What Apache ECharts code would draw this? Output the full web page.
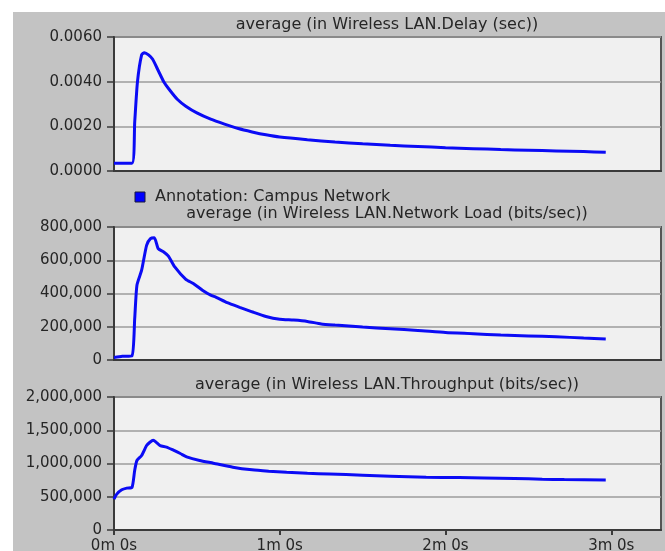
<!DOCTYPE html>
<html>
<head>
<meta charset="utf-8">
<script src="https://cdn.jsdelivr.net/npm/echarts@6/dist/echarts.min.js"></script>
<style>
  html, body { margin: 0; padding: 0; background: #ffffff; }
  #chart { width: 665px; height: 551px; }
</style>
</head>
<body>
<div id="chart"></div>
<script>
// Simulation time (seconds) and averaged statistics for the campus WLAN run
const delayTimes  = [0, 6.5, 7.5, 8.5, 10, 11, 12.5, 14, 16, 18, 20, 23, 26, 30, 35, 40, 45, 50, 55, 60, 70, 80, 90, 100, 110, 120, 130, 140, 150, 160, 170, 178];
const delayValues = [0.00035, 0.00035, 0.0022, 0.0040, 0.0052, 0.0053, 0.0052, 0.0050, 0.0045, 0.0040, 0.00365, 0.0032, 0.0029, 0.0026, 0.00232, 0.0021, 0.0019, 0.00175, 0.00162, 0.00152, 0.0014, 0.0013, 0.00122, 0.00115, 0.0011, 0.00104, 0.0010, 0.00096, 0.00093, 0.0009, 0.00087, 0.00084];

const loadTimes  = [0, 3, 6.5, 7.5, 8.3, 10, 11.8, 13.2, 14.6, 16, 18, 19.7, 22, 26, 28.7, 32, 35, 37, 41, 45.5, 50, 55, 60, 65, 70, 75, 80, 90, 100, 110, 120, 130, 140, 150, 160, 170, 178];
const loadValues = [15000, 22000, 25000, 250000, 450000, 540000, 690000, 730000, 735000, 670000, 650000, 625000, 560000, 485000, 460000, 420000, 390000, 377000, 345000, 317000, 290000, 262000, 245000, 240000, 232000, 217000, 210000, 198000, 188000, 178000, 165000, 158000, 150000, 145000, 140000, 132000, 126000];

const thruTimes  = [0, 1, 2.8, 4.6, 6.5, 7.5, 8.3, 10, 11.8, 13, 14.2, 15.5, 16.7, 19, 21.5, 24, 26.3, 31, 36, 43, 50, 56, 62.5, 70, 78, 90, 100, 113, 125, 134, 145, 155, 163, 178];
const thruValues = [465000, 540000, 605000, 630000, 640000, 900000, 1045000, 1120000, 1270000, 1320000, 1350000, 1310000, 1270000, 1247000, 1200000, 1150000, 1100000, 1045000, 1005000, 945000, 905000, 885000, 868000, 852000, 843000, 825000, 810000, 793000, 788000, 783000, 775000, 765000, 758000, 753000];

const panelTitles = [
  'average (in Wireless LAN.Delay (sec))',
  'average (in Wireless LAN.Network Load (bits/sec))',
  'average (in Wireless LAN.Throughput (bits/sec))'
];
const legendLabel = 'Annotation: Campus Network';

const pairs = (t, v) => t.map((x, i) => [x, v[i]]);
const withCommas = v => Math.round(v).toString().replace(/\B(?=(\d{3})+(?!\d))/g, ',');

const FONT = 'DejaVu Sans';
const TEXT = '#262626';
const LINE = '#0b0bf5';

const grids = [
  { left: 114, top: 37,  width: 547, height: 134 },
  { left: 114, top: 227, width: 547, height: 133 },
  { left: 114, top: 397, width: 547, height: 133 }
].map(g => Object.assign(g, {
  show: true,
  backgroundColor: '#f0f0f0',
  borderColor: '#555555',
  borderWidth: 2,
  outerBoundsMode: 'none'
}));

const xBase = i => ({
  type: 'value',
  gridIndex: i,
  min: 0,
  max: 198,
  interval: 60,
  splitLine: { show: false },
  axisLine: { show: true, onZero: false, lineStyle: { color: '#3a3a3a', width: 2 } },
  axisTick: { show: i === 2, inside: false, length: 5, lineStyle: { color: '#3a3a3a', width: 2 } },
  axisLabel: {
    show: i === 2,
    showMaxLabel: false,
    margin: 9,
    color: TEXT,
    fontFamily: FONT,
    fontSize: 15,
    formatter: v => (v / 60) + 'm 0s'
  }
});

const yBase = (i, max, interval, fmt) => ({
  type: 'value',
  gridIndex: i,
  min: 0,
  max: max,
  interval: interval,
  axisLine: { show: true, lineStyle: { color: '#3a3a3a', width: 2 } },
  axisTick: { show: true, length: 7, lineStyle: { color: '#3a3a3a', width: 1.5 } },
  splitLine: { show: true, lineStyle: { color: '#9c9c9c', width: 1.5 } },
  axisLabel: { margin: 12, color: TEXT, fontFamily: FONT, fontSize: 15, formatter: fmt }
});

const seriesBase = (i, data) => ({
  type: 'line',
  xAxisIndex: i,
  yAxisIndex: i,
  data: data,
  smooth: 0.2,
  showSymbol: false,
  symbol: 'none',
  silent: true,
  lineStyle: { color: LINE, width: 3 }
});

const titleText = (text, y) => ({
  type: 'text',
  x: 387,
  y: y,
  style: { text: text, fill: TEXT, font: '16px "DejaVu Sans"', align: 'center', verticalAlign: 'middle' }
});

const chart = echarts.init(document.getElementById('chart'), null, { renderer: 'canvas' });
chart.setOption({
  animation: false,
  backgroundColor: '#ffffff',
  grid: grids,
  xAxis: [xBase(0), xBase(1), xBase(2)],
  yAxis: [
    yBase(0, 0.006, 0.002, v => v.toFixed(4)),
    yBase(1, 800000, 200000, withCommas),
    yBase(2, 2000000, 500000, withCommas)
  ],
  series: [
    seriesBase(0, pairs(delayTimes, delayValues)),
    seriesBase(1, pairs(loadTimes, loadValues)),
    seriesBase(2, pairs(thruTimes, thruValues))
  ],
  graphic: [
    { type: 'rect', z: -10, shape: { x: 13, y: 12, width: 652, height: 539 }, style: { fill: '#c3c3c3' } },
    titleText(panelTitles[0], 25),
    {
      type: 'rect',
      shape: { x: 135, y: 192, width: 10, height: 10 },
      style: { fill: '#0000ff', stroke: '#1a1a3a', lineWidth: 1 }
    },
    {
      type: 'text', x: 155, y: 197,
      style: { text: legendLabel, fill: TEXT, font: '16px "DejaVu Sans"', align: 'left', verticalAlign: 'middle' }
    },
    titleText(panelTitles[1], 214),
    titleText(panelTitles[2], 385)
  ]
});
</script>
</body>
</html>
